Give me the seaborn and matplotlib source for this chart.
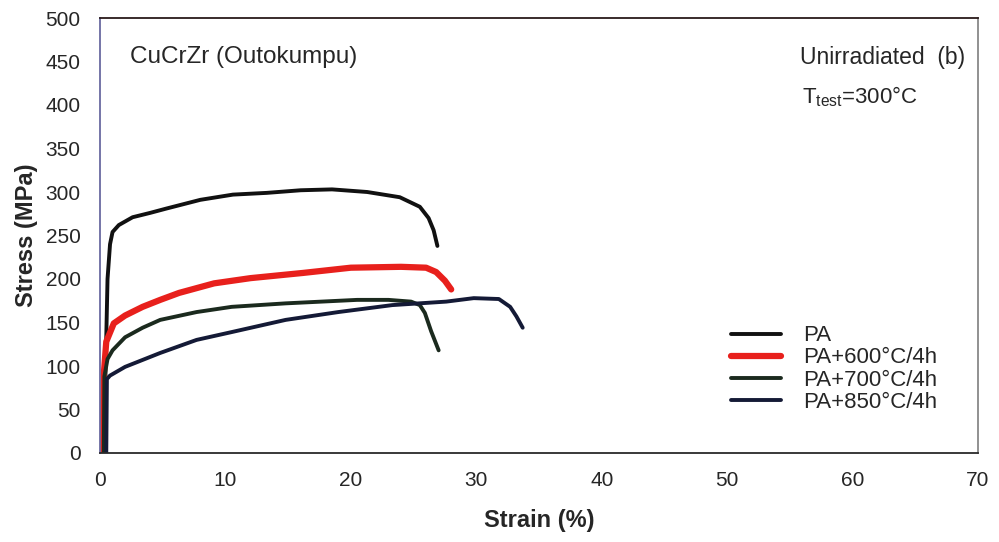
import numpy as np
import pandas as pd
import matplotlib.pyplot as plt
import seaborn as sns

# ----------------------------
# Curvas tensión-deformación
pa_strain = [0.3, 0.45, 0.6, 0.8, 1.0, 1.5, 2.6, 4.0, 5.3, 8.0, 10.6, 13.3, 16.0, 18.5, 21.3, 23.9, 25.5, 26.2, 26.6, 26.9]
pa_stress = [0, 100, 200, 240, 254, 262, 271, 276, 281, 291, 297, 299, 302, 303, 300, 294, 283, 270, 256, 238]

pa600_strain = [0.2, 0.3, 0.5, 1.1, 2.0, 3.4, 4.8, 6.3, 9.1, 12.0, 16.2, 20.0, 24.0, 26.0, 26.8, 27.5, 28.0]
pa600_stress = [0, 90, 128, 149, 158, 168, 176, 184, 195, 201, 207, 213, 214, 213, 208, 198, 188]

pa700_strain = [0.3, 0.35, 0.6, 1.0, 2.0, 3.4, 4.8, 7.7, 10.5, 14.8, 20.5, 23.0, 24.8, 25.5, 25.9, 26.4, 27.0]
pa700_stress = [0, 88, 108, 118, 133, 144, 153, 162, 168, 172, 176, 176, 174, 170, 161, 140, 118]

pa850_strain = [0.5, 0.55, 0.8, 2.0, 4.8, 7.7, 10.5, 14.8, 19.0, 23.3, 27.6, 29.8, 31.8, 32.7, 33.2, 33.7]
pa850_stress = [0, 85, 89, 99, 115, 130, 139, 153, 162, 170, 174, 178, 177, 168, 157, 144]

etiquetas = ["PA", "PA+600°C/4h", "PA+700°C/4h", "PA+850°C/4h"]
colores = ["#111111", "#e8201c", "#1b2a1e", "#141a36"]
grosores = [2.8, 4.5, 2.8, 2.8]

x_ticks = [0, 10, 20, 30, 40, 50, 60, 70]
y_ticks = [0, 50, 100, 150, 200, 250, 300, 350, 400, 450, 500]

sns.set_style("white")
plt.rcParams['font.family'] = ['Liberation Sans', 'DejaVu Sans']

fig = plt.figure(figsize=(9.99, 5.42), dpi=100)
ax = fig.add_axes([100 / 999, 1 - 453 / 542, 878 / 999, 435 / 542])

curvas = [(pa_strain, pa_stress), (pa600_strain, pa600_stress),
          (pa700_strain, pa700_stress), (pa850_strain, pa850_stress)]
for (xs, ys), etiqueta, color, lw in zip(curvas, etiquetas, colores, grosores):
    df = pd.DataFrame({"Strain": xs, "Stress": ys})
    sns.lineplot(data=df, x="Strain", y="Stress", ax=ax, sort=False,
                 estimator=None, color=color, linewidth=lw, label=etiqueta)

ax.set_xlim(0, 70)
ax.set_ylim(0, 500)
ax.set_xticks(x_ticks)
ax.set_yticks(y_ticks)
ax.tick_params(axis="both", labelsize=15, length=4, width=1, direction="out", color="#444444")
ax.tick_params(axis="x", pad=9)
ax.tick_params(axis="y", pad=10)
ax.set_xlabel("Strain (%)", fontsize=17, fontweight="bold", labelpad=14)
ax.set_ylabel("Stress (MPa)", fontsize=17, fontweight="bold", labelpad=5)

for lado in ["left", "right", "top", "bottom"]:
    ax.spines[lado].set_visible(True)
    ax.spines[lado].set_linewidth(1.3)
ax.spines["left"].set_color("#6a6aa0")
ax.spines["right"].set_color("#888888")
ax.spines["top"].set_color("#2a1a1a")
ax.spines["bottom"].set_color("#2a2a2a")

ax.text(2.4, 455, "CuCrZr (Outokumpu)", fontsize=17.5, va="center", ha="left")
ax.text(69.0, 455, "Unirradiated  (b)", fontsize=16.5, va="center", ha="right")
ax.text(56.0, 410, r"T$_{\mathregular{test}}$=300°C", fontsize=16, va="center", ha="left")

ax.legend(loc="center left", bbox_to_anchor=(0.706, 0.193), frameon=False,
          fontsize=16, handlelength=2.25, labelspacing=0.05, handletextpad=1.0,
          borderpad=0)

fig.savefig("out.png", dpi=100)
